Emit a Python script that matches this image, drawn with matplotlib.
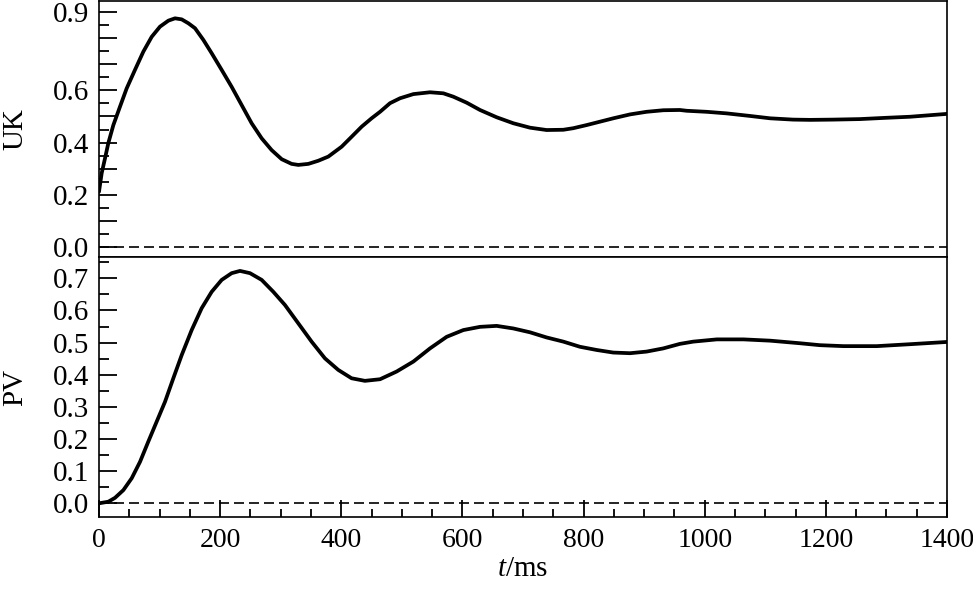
import matplotlib
matplotlib.use("Agg")
import matplotlib.pyplot as plt
from matplotlib.ticker import MultipleLocator, FixedLocator, FuncFormatter

plt.rcParams['font.family'] = ['Liberation Serif', 'DejaVu Serif']
plt.rcParams['mathtext.fontset'] = 'custom'
plt.rcParams['mathtext.it'] = 'Liberation Serif:italic'
plt.rcParams['mathtext.rm'] = 'Liberation Serif'

# ---- data ----
uk_t = [0, 4.4, 9.9, 15.4, 23.7, 34.7, 45.7, 59.4, 73.2, 87, 100.7, 114.5, 125.5,
        136.5, 147.5, 158.5, 172.3, 186, 202.5, 219, 235.5, 252, 268.6, 285, 301.6,
        318, 329, 345.6, 362, 378.6, 400.6, 417, 433.7, 450, 464, 480.4, 497, 519,
        546.5, 568.5, 585, 607, 629, 656.5, 684, 711.6, 739, 766.6, 783, 805, 827,
        849, 876.7, 904, 931.7, 959, 970, 1003, 1036, 1075, 1108, 1146, 1174, 1212,
        1256, 1300, 1339, 1400]
uk_v = [0.211, 0.282, 0.339, 0.398, 0.467, 0.538, 0.608, 0.679, 0.749, 0.806, 0.845,
        0.868, 0.877, 0.873, 0.858, 0.839, 0.794, 0.743, 0.679, 0.614, 0.544, 0.474,
        0.416, 0.371, 0.336, 0.318, 0.314, 0.318, 0.330, 0.346, 0.384, 0.422, 0.461,
        0.493, 0.518, 0.551, 0.570, 0.586, 0.593, 0.589, 0.576, 0.553, 0.525, 0.497,
        0.474, 0.457, 0.448, 0.449, 0.455, 0.467, 0.480, 0.493, 0.508, 0.518, 0.524,
        0.525, 0.522, 0.518, 0.512, 0.502, 0.493, 0.488, 0.487, 0.488, 0.490, 0.495,
        0.499, 0.510]

pv_t = [0, 15.4, 26.4, 40.2, 54, 67.7, 81.4, 95.2, 109, 122.7, 136.5, 153, 169.5,
        186, 202.5, 219, 232.8, 249.3, 268.6, 287.8, 307, 329, 351, 373, 395, 417,
        439, 464, 491.4, 519, 546.5, 574, 601.5, 629, 656.5, 684, 711.6, 739, 766.6,
        794, 821.7, 849, 876.7, 904, 931.7, 959, 981, 1020, 1064, 1108, 1157, 1190,
        1229, 1284, 1339, 1400]
pv_v = [0.0, 0.005, 0.017, 0.041, 0.078, 0.129, 0.192, 0.254, 0.316, 0.389, 0.461,
        0.539, 0.607, 0.658, 0.695, 0.716, 0.723, 0.716, 0.695, 0.658, 0.617, 0.560,
        0.503, 0.451, 0.415, 0.389, 0.381, 0.386, 0.410, 0.441, 0.482, 0.518, 0.539,
        0.549, 0.552, 0.544, 0.532, 0.516, 0.503, 0.487, 0.477, 0.469, 0.467, 0.472,
        0.482, 0.496, 0.503, 0.510, 0.510, 0.506, 0.498, 0.492, 0.489, 0.489, 0.495,
        0.502]

uk_labeled_ticks = [0.0, 0.2, 0.4, 0.6, 0.9]
pv_labeled_ticks = [0.0, 0.1, 0.2, 0.3, 0.4, 0.5, 0.6, 0.7]
x_ticks = [0, 200, 400, 600, 800, 1000, 1200, 1400]

W, H = 973, 589
fig = plt.figure(figsize=(W / 100, H / 100), dpi=100)

left, right = 99 / W, 947 / W
ax1 = fig.add_axes([left, 1 - 257 / H, right - left, (257 - 1) / H])
ax2 = fig.add_axes([left, 1 - 517 / H, right - left, (517 - 257) / H], sharex=ax1)

lw_curve = 2.7
for ax, t, v in ((ax1, uk_t, uk_v), (ax2, pv_t, pv_v)):
    ax.plot(t, v, color='black', lw=lw_curve, solid_joinstyle='round',
            solid_capstyle='round')
    ax.axhline(0, color='black', lw=1.2, ls=(0, (6, 3)))
    for s in ax.spines.values():
        s.set_linewidth(1.2)

ax1.set_xlim(0, 1400)
ax1.set_ylim(-0.0396, 0.9435)
ax2.set_ylim(-0.0426, 0.7663)

def fmt_factory(labels):
    def f(val, pos):
        for l in labels:
            if abs(val - l) < 1e-6:
                return f"{l:.1f}"
        return ""
    return f

ax1.yaxis.set_major_locator(MultipleLocator(0.1))
ax1.yaxis.set_minor_locator(MultipleLocator(0.05))
ax1.yaxis.set_major_formatter(FuncFormatter(fmt_factory(uk_labeled_ticks)))
ax2.yaxis.set_major_locator(FixedLocator(pv_labeled_ticks))
ax2.yaxis.set_minor_locator(MultipleLocator(0.05))
ax2.yaxis.set_major_formatter(FuncFormatter(fmt_factory(pv_labeled_ticks)))

ax2.xaxis.set_major_locator(FixedLocator(x_ticks))
ax2.xaxis.set_minor_locator(MultipleLocator(50))

for ax in (ax1, ax2):
    ax.tick_params(axis='y', which='major', direction='in', length=13, width=1.3,
                   labelsize=21, pad=7, right=False)
    ax.tick_params(axis='y', which='minor', direction='in', length=7, width=1.3,
                   right=False)
ax1.tick_params(axis='x', which='both', bottom=False, top=False, labelbottom=False)
ax2.tick_params(axis='x', which='major', direction='in', length=12, width=1.3,
                labelsize=20, pad=8, top=False)
ax2.tick_params(axis='x', which='minor', direction='in', length=6, width=1.3, top=False)

ax1.set_ylabel('UK', fontsize=21)
ax2.set_ylabel('PV', fontsize=21)
ax1.yaxis.set_label_coords(-0.083, 0.5)
ax2.yaxis.set_label_coords(-0.083, 0.5)
ax2.set_xlabel('$t$/ms', fontsize=21, labelpad=2)

fig.savefig('out.png', dpi=100)
